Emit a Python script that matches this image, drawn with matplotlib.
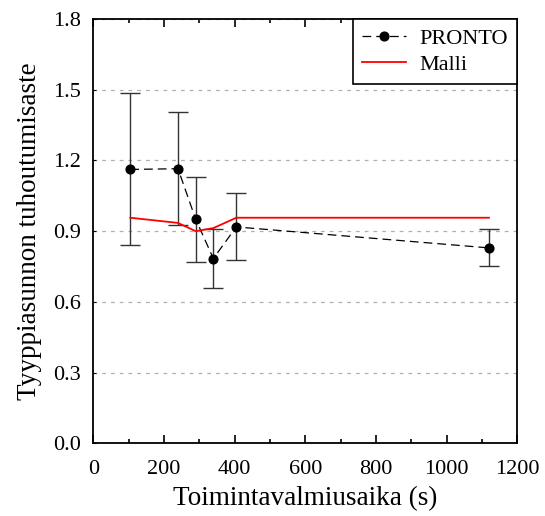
import matplotlib
matplotlib.use("Agg")
import matplotlib.pyplot as plt
from matplotlib.ticker import MultipleLocator

plt.rcParams["font.family"] = ["Liberation Serif", "DejaVu Serif"]

# PRONTO data with error bars
times = [105, 240, 290, 340, 405, 1120]
pronto = [1.162, 1.165, 0.951, 0.784, 0.918, 0.829]
err_low = [0.840, 0.925, 0.768, 0.657, 0.777, 0.751]
err_high = [1.487, 1.404, 1.128, 0.911, 1.061, 0.910]

# model
malli = [0.957, 0.935, 0.900, 0.913, 0.957, 0.957]

yerr = [[p - lo for p, lo in zip(pronto, err_low)],
        [hi - p for p, hi in zip(pronto, err_high)]]

fig = plt.figure(figsize=(5.45, 5.16), dpi=100)
ax = fig.add_axes([0.171, 0.141, 0.778, 0.822])

ax.errorbar(times, pronto, yerr=yerr, fmt="none", ecolor="#333333",
            elinewidth=1.0, capsize=7, capthick=1.0, zorder=2)
ax.plot(times, pronto, color="black", linestyle=(0, (7, 4)), linewidth=0.9,
        marker="o", markersize=6.3, label="PRONTO", zorder=3)
ax.plot(times, malli, color="red", linewidth=1.3, label="Malli", zorder=4)

ax.set_xlim(0, 1200)
ax.set_ylim(0, 1.8)
ax.xaxis.set_major_locator(MultipleLocator(200))
ax.xaxis.set_minor_locator(MultipleLocator(100))
ax.yaxis.set_major_locator(MultipleLocator(0.3))
ax.yaxis.set_major_formatter(plt.FormatStrFormatter("%.1f"))

ax.tick_params(axis="x", which="major", direction="in", length=6, width=1.2,
               top=True, labelsize=16, pad=12)
ax.tick_params(axis="x", which="minor", direction="in", length=3, width=1.2,
               top=True)
ax.tick_params(axis="y", direction="in", length=2, width=0.8,
               labelsize=16, pad=9)

ax.yaxis.grid(True, color="#b0b0b0", linestyle=(0, (3, 4)), linewidth=0.9)
ax.set_axisbelow(True)
for s in ax.spines.values():
    s.set_linewidth(1.3)

ax.set_xlabel("Toimintavalmiusaika (s)", fontsize=19.5, labelpad=5)
ax.set_ylabel("Tyyppiasunnon tuhoutumisaste", fontsize=19.5, labelpad=8)

leg = ax.legend(loc="upper right", borderaxespad=0, fontsize=16,
                fancybox=False, framealpha=1, edgecolor="black",
                handlelength=2.0, borderpad=0.4, labelspacing=0.25,
                handletextpad=0.6)
leg.get_frame().set_linewidth(1.2)

fig.savefig("out.png", dpi=100)
